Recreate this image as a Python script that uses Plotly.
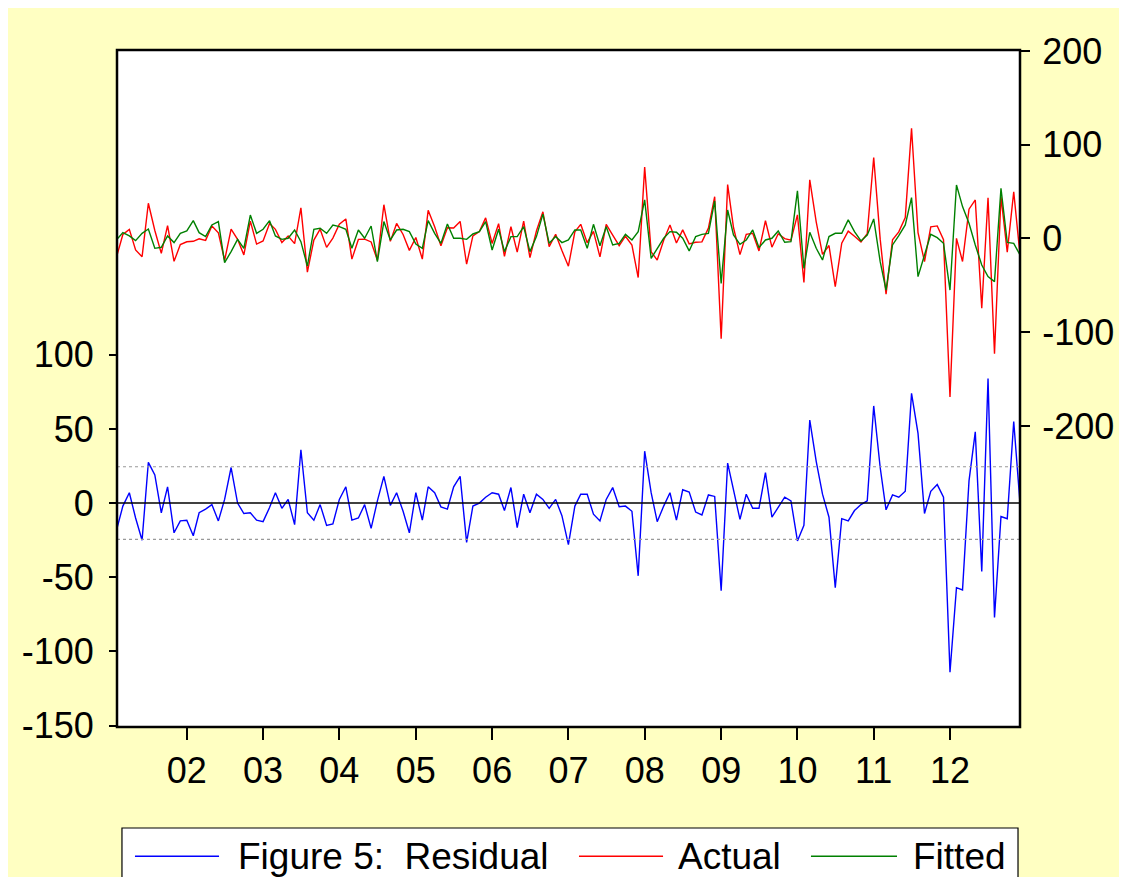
import pandas as pd
import plotly.graph_objects as go

# Monthly observations 2001M02 - 2012M12
dates = pd.date_range("2001-02-01", "2012-12-01", freq="MS")

residual = [
    -17, -2, 7, -10, -25, 27.5, 19, -6.5, 11, -20, -12, -11.5, -22, -6.5, -4, -1,
    -12, 2.5, 24, 0, -7, -6.5, -11.5, -12.5, -3, 7, -3.5, 2.5, -14.5, 36, -6.5, -11.5,
    -1, -15, -14, 2.5, 11, -11.5, -10, -1, -17, 1.5, 18, -1.5, 7, -5.5, -20, 7,
    -11.5, 11, 7, -2.5, -4, 11, 18, -26.5, -2, 0, 4, 7, 6, -5, 10.5, -16.5,
    6, -6.5, 6, 2.5, -3.5, 2.5, -8.5, -28, -2, 6, 6, -7.5, -12, 2.5, 10.5, -2.5,
    -2, -5.5, -49, 35, 7, -12.5, -2, 7, -11.5, 9, 7.5, -6, -8, 5.5, 4.5, -59,
    27, 8, -11, 6, -3.5, -3.5, 20.5, -9.5, -3, 4, 1.5, -25.5, -15, 56, 28, 6,
    -9.5, -57, -10.5, -12, -5, -1, 1.5, 65.5, 24, -4.5, 5.5, 4, 8, 74, 47, -7,
    8, 12.5, 4, -114, -57, -58.5, 15, 48, -46, 84, -77, -9, -10.5, 55, 0,
]

fitted = [
    -0.9, 6.2, 2.7, -2.3, 5.5, 10.1, -10.5, -9.4, 2.7, -4.4, 5.5, 8, 19, 6.2, 2, 14.4,
    18, -25.8, -14, -0.9, -10.5, 25, 5.5, 9.8, 19, 2.7, -0.9, 0.2, 9, -3.4, -29.4, 9.8,
    10.9, 5.5, 14.4, 12.6, 9.8, -10.5, 9, 0.2, 13.3, -24.7, 18, -1.6, 9, 9.8, 7.3, -5.9,
    -10.5, 19, 5.5, -5.2, 15.5, 0.2, 0.2, -0.9, 4.8, 7.3, 18, -12.3, 9.8, -14, 2, 2,
    12.6, -14, 2, 26, -5.2, 2, -4.4, -1.6, 9.1, 9.1, -10.5, 15.1, -7.7, 12.6, -6.9, -5.2,
    4.4, -1.6, 7.3, 41.1, -21.2, -10.5, 0.2, 7.3, 6.6, 0.2, -13.3, 2, 4.4, 5.5, 40, -47.9,
    30.4, 3.7, -6.2, -1.6, 9.1, -9.8, -1.6, 0.2, 8, -4.1, -3.4, 50.7, -31.9, 6.6, -10.5, -23,
    2, 5.5, 5.5, 19.8, 7.3, -2.7, 3.7, 20.8, -24.7, -55, -6.9, 3, 14.4, 43.6, -40.7, -17.6,
    4.4, 0.9, -5.2, -55, 57.1, 34, 16.2, -6.9, -28.3, -40.7, -46, 53.6, -4.1, -5.2, -17.6,
]

actual = [
    -17.9, 4.2, 9.7, -12.3, -19.5, 37.6, 8.5, -15.9, 13.7, -24.4, -6.5, -3.5, -3, -0.3, -2, 13.4,
    6, -23.3, 10, -0.9, -17.5, 18.5, -6, -2.7, 16, 9.7, -4.4, 2.7, -5.5, 32.6, -35.9, -1.7,
    9.9, -9.5, 0.4, 15.1, 20.8, -22, -1, -0.8, -3.7, -23.2, 36, -3.1, 16, 4.3, -12.7, 1.1,
    -22, 30, 12.5, -7.7, 11.5, 11.2, 18.2, -27.4, 2.8, 7.3, 22, -5.3, 15.8, -19, 12.5, -14.5,
    18.6, -20.5, 8, 28.5, -8.7, 4.5, -12.9, -29.6, 7.1, 15.1, -4.5, 7.6, -19.7, 15.1, 3.6, -7.7,
    2.4, -7.1, -41.7, 76.1, -14.2, -23, -1.8, 14.3, -4.9, 9.2, -5.8, -4, -3.6, 11, 44.5, -106.9,
    57.4, 11.7, -17.2, 4.4, 5.6, -13.3, 18.9, -9.3, 5, -0.1, -1.9, 25.2, -46.9, 62.6, 17.5, -17,
    -7.5, -51.5, -5, 7.8, 2.3, -3.7, 5.2, 86.3, -0.7, -59.5, -1.4, 7, 22.4, 117.6, 6.3, -24.6,
    12.4, 13.4, -1.2, -169, 0.1, -24.5, 31.2, 41.1, -74.3, 43.3, -123, 44.6, -14.6, 49.8, -17.6,
]

resid_se = 24.5  # +/- 1 S.E. band

year_ticks = pd.date_range("2002-01-01", "2012-01-01", freq="YS")
year_labels = ["02", "03", "04", "05", "06", "07", "08", "09", "10", "11", "12"]
left_ticks = [-150, -100, -50, 0, 50, 100]
left_labels = ["-150", "-100", "-50", "0", "50", "100"]
right_ticks = [-200, -100, 0, 100, 200]
right_labels = ["-200", "-100", "0", "100", "200"]

FONT = "Arial, Liberation Sans, sans-serif"
BG = "#FFFFC2"

fig = go.Figure()
fig.add_trace(go.Scatter(x=dates, y=residual, name="Residual", mode="lines",
                         line=dict(color="#0000FF", width=1.4), yaxis="y"))
fig.add_trace(go.Scatter(x=dates, y=actual, name="Actual", mode="lines",
                         line=dict(color="#FF0000", width=1.4), yaxis="y2"))
fig.add_trace(go.Scatter(x=dates, y=fitted, name="Fitted", mode="lines",
                         line=dict(color="#008000", width=1.4), yaxis="y2"))

shapes = []
for v in (resid_se, -resid_se):
    shapes.append(dict(type="line", xref="paper", yref="y", x0=0, x1=1, y0=v, y1=v,
                       line=dict(color="#999999", width=1.2, dash="dot")))
shapes.append(dict(type="line", xref="paper", yref="y", x0=0, x1=1, y0=0, y1=0,
                   line=dict(color="black", width=1.5)))
# plot frame
shapes.append(dict(type="rect", xref="paper", yref="paper", x0=0, x1=1, y0=0, y1=1,
                   line=dict(color="black", width=2.5)))

# manual legend box
shapes.append(dict(type="rect", xref="paper", yref="paper", x0=0.0055, x1=0.9978,
                   y0=-0.1492, y1=-0.235, line=dict(color="black", width=1.2),
                   fillcolor="white", layer="above"))
leg_y = -0.191
legend_items = [("#0000FF", 0.0199, 0.1130, 0.1318, "Figure 5:\u00a0 Residual"),
                ("#FF0000", 0.5116, 0.6047, 0.6190, "Actual"),
                ("#008000", 0.7685, 0.8638, 0.8793, "Fitted")]
annotations = []
for col, lx0, lx1, tx, txt in legend_items:
    shapes.append(dict(type="line", xref="paper", yref="paper", x0=lx0, x1=lx1,
                       y0=leg_y, y1=leg_y, line=dict(color=col, width=1.4), layer="above"))
    annotations.append(dict(xref="paper", yref="paper", x=tx, y=leg_y, text=txt,
                            showarrow=False, xanchor="left", yanchor="middle",
                            font=dict(family=FONT, size=37, color="black")))

fig.update_layout(
    width=1119, height=869,
    margin=dict(l=109, r=107, t=42, b=150),
    paper_bgcolor=BG, plot_bgcolor="white",
    showlegend=False,
    font=dict(family=FONT, size=36, color="black"),
    xaxis=dict(range=[dates[0], dates[-1]], tickvals=list(year_ticks), ticktext=year_labels,
               ticks="outside", ticklen=12, tickwidth=1.5, tickcolor="black",
               showgrid=False, zeroline=False, showline=False,
               tickfont=dict(size=36)),
    yaxis=dict(range=[-150.9, 305.4], tickvals=left_ticks, ticktext=left_labels,
               ticks="outside", ticklen=7, ticklabelstandoff=8,
               tickwidth=1.5, tickcolor="black", showgrid=False, zeroline=False,
               showline=False, tickfont=dict(size=36)),
    yaxis2=dict(range=[-521, 201], tickvals=right_ticks, ticktext=right_labels,
                ticks="outside", ticklen=9, ticklabelstandoff=5,
                tickwidth=1.5, tickcolor="black", showgrid=False, zeroline=False,
                overlaying="y", side="right", showline=False, tickfont=dict(size=36)),
    shapes=shapes, annotations=annotations,
)

fig.write_html("out.html")
